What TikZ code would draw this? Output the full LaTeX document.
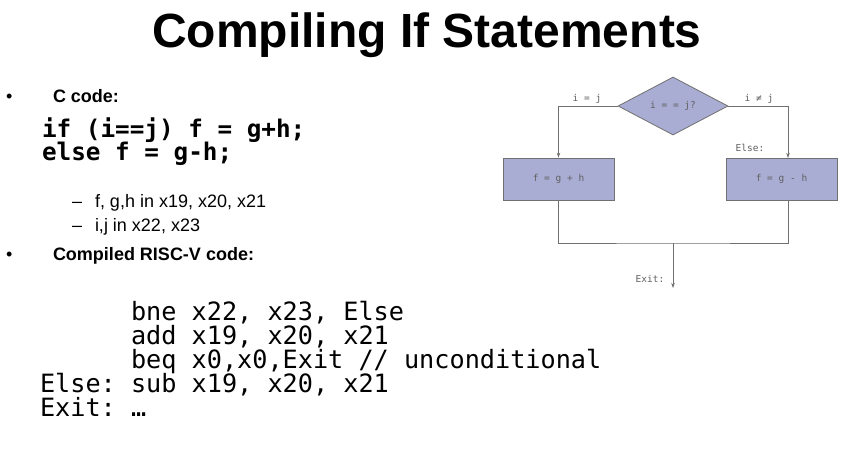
\documentclass[tikz,border=0pt]{standalone}
\usepackage{fontspec}
\setmainfont{Liberation Sans}
\newfontfamily\codefont{DejaVu Sans Mono}
\newfontfamily\labfont{DejaVu Sans Mono}
\usetikzlibrary{shapes.geometric,arrows.meta}
\definecolor{boxfill}{HTML}{A9ADD3}
\definecolor{flowline}{HTML}{707070}
\definecolor{flowtext}{HTML}{606060}
\tikzset{
  txt/.style={anchor=base west, inner sep=0pt, outer sep=0pt},
  headtxt/.style={txt, font=\fontsize{18}{22}\selectfont\bfseries},
  subtxt/.style={txt, font=\fontsize{18}{22}\selectfont},
  ccode/.style={txt, font=\fontsize{24.3}{28}\selectfont\codefont\bfseries\frenchspacing},
  rcode/.style={txt, font=\fontsize{25.2}{28}\selectfont\codefont\frenchspacing},
  flowbox/.style={draw=flowline, fill=boxfill, line width=0.8pt, rectangle,
    minimum width=111pt, minimum height=42pt, inner sep=0pt,
    font=\fontsize{9.5}{11}\selectfont\labfont\frenchspacing, text=flowtext},
  flowdia/.style={draw=flowline, fill=boxfill, line width=0.8pt, diamond,
    minimum width=110pt, minimum height=58pt, inner sep=0pt,
    font=\fontsize{9.5}{11}\selectfont\labfont\frenchspacing, text=flowtext},
  flowlab/.style={inner sep=0pt, font=\fontsize{9.5}{11}\selectfont\labfont\frenchspacing, text=flowtext},
  conn/.style={draw=flowline, line width=0.8pt},
  arr/.style={conn, -{Stealth[length=5pt,width=3.5pt]}}
}
\begin{document}
\begin{tikzpicture}[x=1pt,y=-1pt]
\useasboundingbox[fill=white] (0,0) rectangle (854,448);
% title
\node[anchor=base, inner sep=0pt, font=\fontsize{48}{56}\selectfont\bfseries] (title) at (427,47) {Compiling If Statements};
% bullets
\node[txt, font=\fontsize{18}{22}\selectfont] (b1) at (6,102) {\textbullet};
\node[headtxt] (h1) at (53,102) {C code:};
\node[ccode] (c1) at (42,137) {if (i==j) f = g+h;};
\node[ccode] (c2) at (42,160) {else f = g-h;};
\node[subtxt] (d1) at (72,207) {–};
\node[subtxt] (s1) at (95,207) {f, g,h in x19, x20, x21};
\node[subtxt] (d2) at (72,231) {–};
\node[subtxt] (s2) at (95,231) {i,j in x22, x23};
\node[txt, font=\fontsize{18}{22}\selectfont] (b2) at (6,260) {\textbullet};
\node[headtxt] (h2) at (53,260) {Compiled RISC-V code:};
% RISC-V code
\node[rcode] (r1) at (131,320) {bne x22, x23, Else};
\node[rcode] (r2) at (131,344) {add x19, x20, x21};
\node[rcode] (r3) at (131,368) {beq x0,x0,Exit // unconditional};
\node[rcode] (r4) at (40,392) {Else: sub x19, x20, x21};
\node[rcode] (r5) at (40,416) {Exit: …};
% flowchart
\node[flowdia] (dia) at (673,106) {i = = j?};
\node[flowbox] (lbox) at (558.5,179) {f = g + h};
\node[flowbox] (rbox) at (781.5,179) {f = g - h};
\coordinate (rin) at (788,158);
\coordinate (rout) at (788,200);
\coordinate (join) at (673,243);
\coordinate (exitpt) at (673,288);
\draw[arr] (dia.west) -| (lbox.north);
\draw[arr] (dia.east) -| (rin);
\draw[conn] (lbox.south) |- (join) -| (rout);
\draw[arr] (join) -- (exitpt);
\node[flowlab] (leq) at (587,99) {i = j};
\node[flowlab] (lneq) at (759,99) {i ≠ j};
\node[flowlab] (lelse) at (750,148) {Else:};
\node[flowlab] (lexit) at (650,279) {Exit:};
\end{tikzpicture}
\end{document}
